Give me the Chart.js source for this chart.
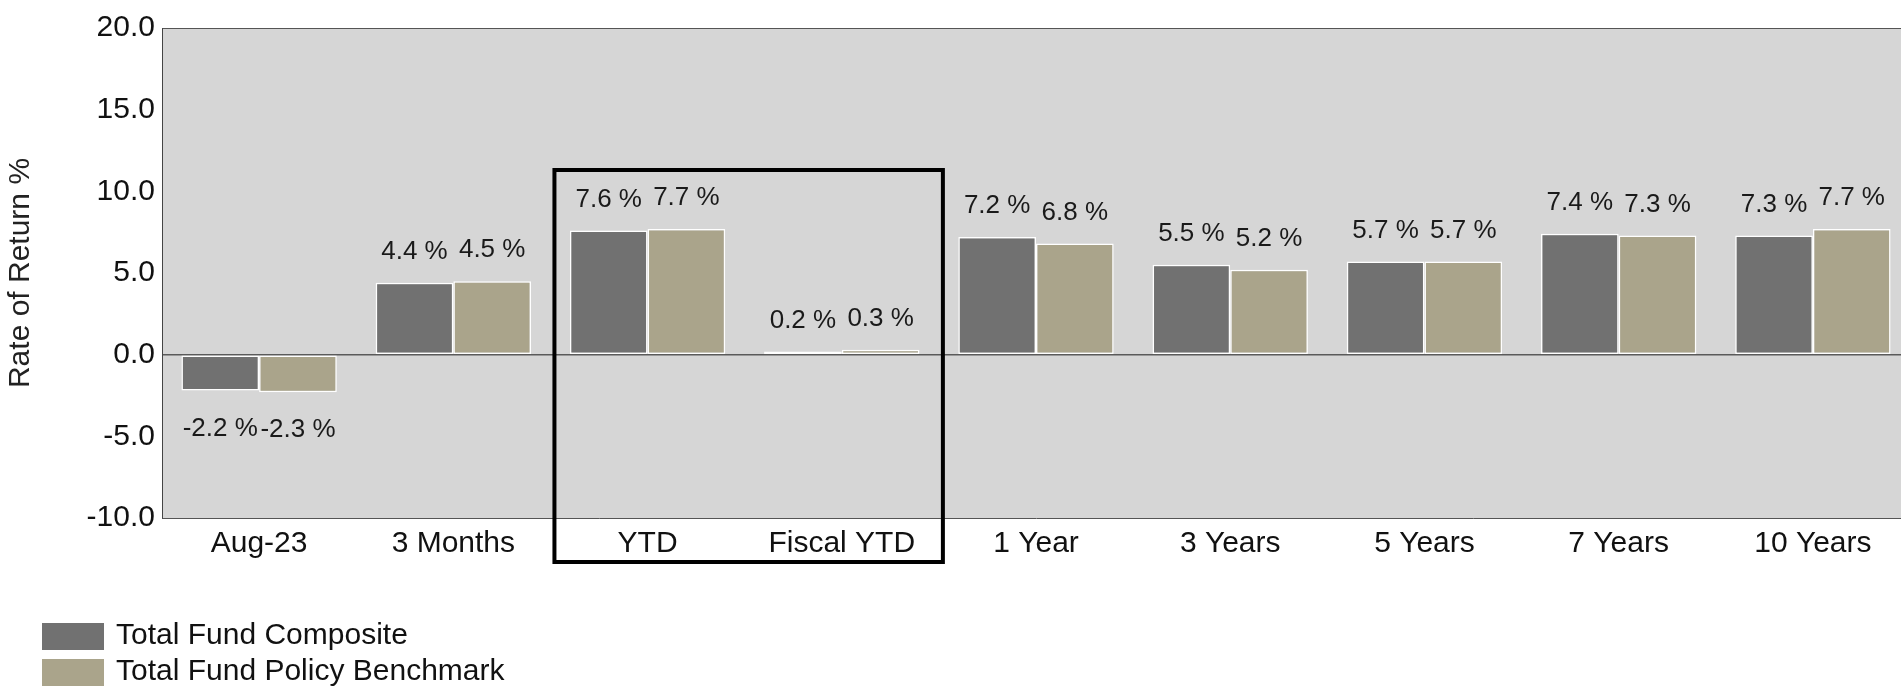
<!DOCTYPE html>
<html>
<head>
<meta charset="utf-8">
<script src="https://cdn.jsdelivr.net/npm/chart.js@4"></script>
<style>
  html, body { margin: 0; padding: 0; background: #ffffff; overflow: hidden; }
  #wrap { position: relative; width: 1910px; height: 687px; }
</style>
</head>
<body>
<div id="wrap"><canvas id="returns" width="1910" height="687"></canvas></div>
<script>
// Periods and trailing returns (%)
const categories = ['Aug-23', '3 Months', 'YTD', 'Fiscal YTD', '1 Year', '3 Years', '5 Years', '7 Years', '10 Years'];
const seriesNames = ['Total Fund Composite', 'Total Fund Policy Benchmark'];
const compositeReturns = [-2.2, 4.4, 7.6, 0.2, 7.2, 5.5, 5.7, 7.4, 7.3];
const benchmarkReturns = [-2.3, 4.5, 7.7, 0.3, 6.8, 5.2, 5.7, 7.3, 7.7];
const yTicks = [-10, -5, 0, 5, 10, 15, 20];
const highlightedPeriods = ['YTD', 'Fiscal YTD'];

const FONT = "'Liberation Sans', Arial, sans-serif";
const COLORS = ['#717171', '#aaa48b'];

// Plot panel fill and top edge
const plotPanel = {
  id: 'plotPanel',
  beforeDraw(chart) {
    const { ctx, chartArea: a } = chart;
    ctx.save();
    ctx.fillStyle = '#d6d6d6';
    ctx.fillRect(a.left, a.top, a.right - a.left, a.bottom - a.top);
    ctx.strokeStyle = '#555555';
    ctx.lineWidth = 1;
    ctx.beginPath();
    ctx.moveTo(a.left, a.top + 0.5);
    ctx.lineTo(a.right, a.top + 0.5);
    ctx.stroke();
    ctx.restore();
  }
};

// Percent labels above positive bars and below negative ones
const valueLabels = {
  id: 'valueLabels',
  afterDatasetsDraw(chart) {
    const { ctx } = chart;
    ctx.save();
    ctx.font = "26px " + FONT;
    ctx.fillStyle = '#1a1a1a';
    ctx.textAlign = 'center';
    ctx.textBaseline = 'middle';
    chart.data.datasets.forEach((ds, i) => {
      chart.getDatasetMeta(i).data.forEach((bar, j) => {
        const v = ds.data[j];
        const y = v >= 0 ? bar.y - 31 : bar.y + 38;
        ctx.fillText(v.toFixed(1) + ' %', bar.x, y);
      });
    });
    ctx.restore();
  }
};

// Frame around the year-to-date periods
const periodFrame = {
  id: 'periodFrame',
  afterDraw(chart) {
    const { ctx, chartArea: a } = chart;
    const x = chart.scales.x;
    const idx = highlightedPeriods.map(p => categories.indexOf(p));
    const band = x.getPixelForValue(1) - x.getPixelForValue(0);
    const left = x.getPixelForValue(Math.min(...idx)) - band / 2 + 4;
    const right = x.getPixelForValue(Math.max(...idx)) + band / 2 + 4;
    const top = a.top + 142;
    const bottom = a.bottom + 44;
    ctx.save();
    ctx.strokeStyle = '#000000';
    ctx.lineWidth = 4;
    ctx.strokeRect(left, top, right - left, bottom - top);
    ctx.restore();
  }
};

// Stacked legend in the lower left corner
const stackedLegend = {
  id: 'stackedLegend',
  afterDraw(chart) {
    const { ctx } = chart;
    ctx.save();
    ctx.font = "30px " + FONT;
    ctx.textAlign = 'left';
    ctx.textBaseline = 'middle';
    const rows = [636, 672];
    chart.data.datasets.forEach((ds, i) => {
      const cy = rows[i];
      ctx.fillStyle = ds.backgroundColor;
      ctx.fillRect(42, cy - 13, 62, 27);
      ctx.fillStyle = '#111111';
      ctx.fillText(ds.label, 116, cy);
    });
    ctx.restore();
  }
};

new Chart(document.getElementById('returns'), {
  type: 'bar',
  data: {
    labels: categories,
    datasets: [
      { label: seriesNames[0], data: compositeReturns, backgroundColor: COLORS[0] },
      { label: seriesNames[1], data: benchmarkReturns, backgroundColor: COLORS[1] }
    ]
  },
  options: {
    responsive: false,
    animation: false,
    devicePixelRatio: 1,
    layout: { padding: { top: 28, left: 0, right: 0, bottom: 0 } },
    datasets: {
      bar: {
        categoryPercentage: 0.8,
        barPercentage: 1.0,
        borderColor: '#ffffff',
        borderWidth: 1.5,
        borderSkipped: false
      }
    },
    plugins: {
      legend: { display: false },
      tooltip: { enabled: false }
    },
    scales: {
      x: {
        grid: { display: false, drawTicks: false },
        border: { display: true, color: '#555555', width: 1 },
        ticks: { color: '#111111', font: { family: FONT, size: 30 }, padding: 8, maxRotation: 0, autoSkip: false },
        afterFit(scale) { scale.height = 169; }
      },
      y: {
        min: yTicks[0],
        max: yTicks[yTicks.length - 1],
        afterBuildTicks(scale) { scale.ticks = yTicks.map(v => ({ value: v })); },
        grid: {
          drawTicks: false,
          color: ctx => (ctx.tick && ctx.tick.value === 0 ? '#5a5a5a' : 'rgba(0,0,0,0)'),
          lineWidth: 1.5
        },
        border: { display: true, color: '#444444', width: 1 },
        ticks: {
          color: '#111111',
          font: { family: FONT, size: 30 },
          padding: 7,
          callback: v => Number(v).toFixed(1)
        },
        title: {
          display: true,
          text: 'Rate of Return %',
          color: '#222222',
          font: { family: FONT, size: 30 },
          padding: { top: 3, bottom: 0 }
        },
        afterFit(scale) { scale.width = 162; }
      }
    }
  },
  plugins: [plotPanel, valueLabels, periodFrame, stackedLegend]
});
</script>
</body>
</html>
